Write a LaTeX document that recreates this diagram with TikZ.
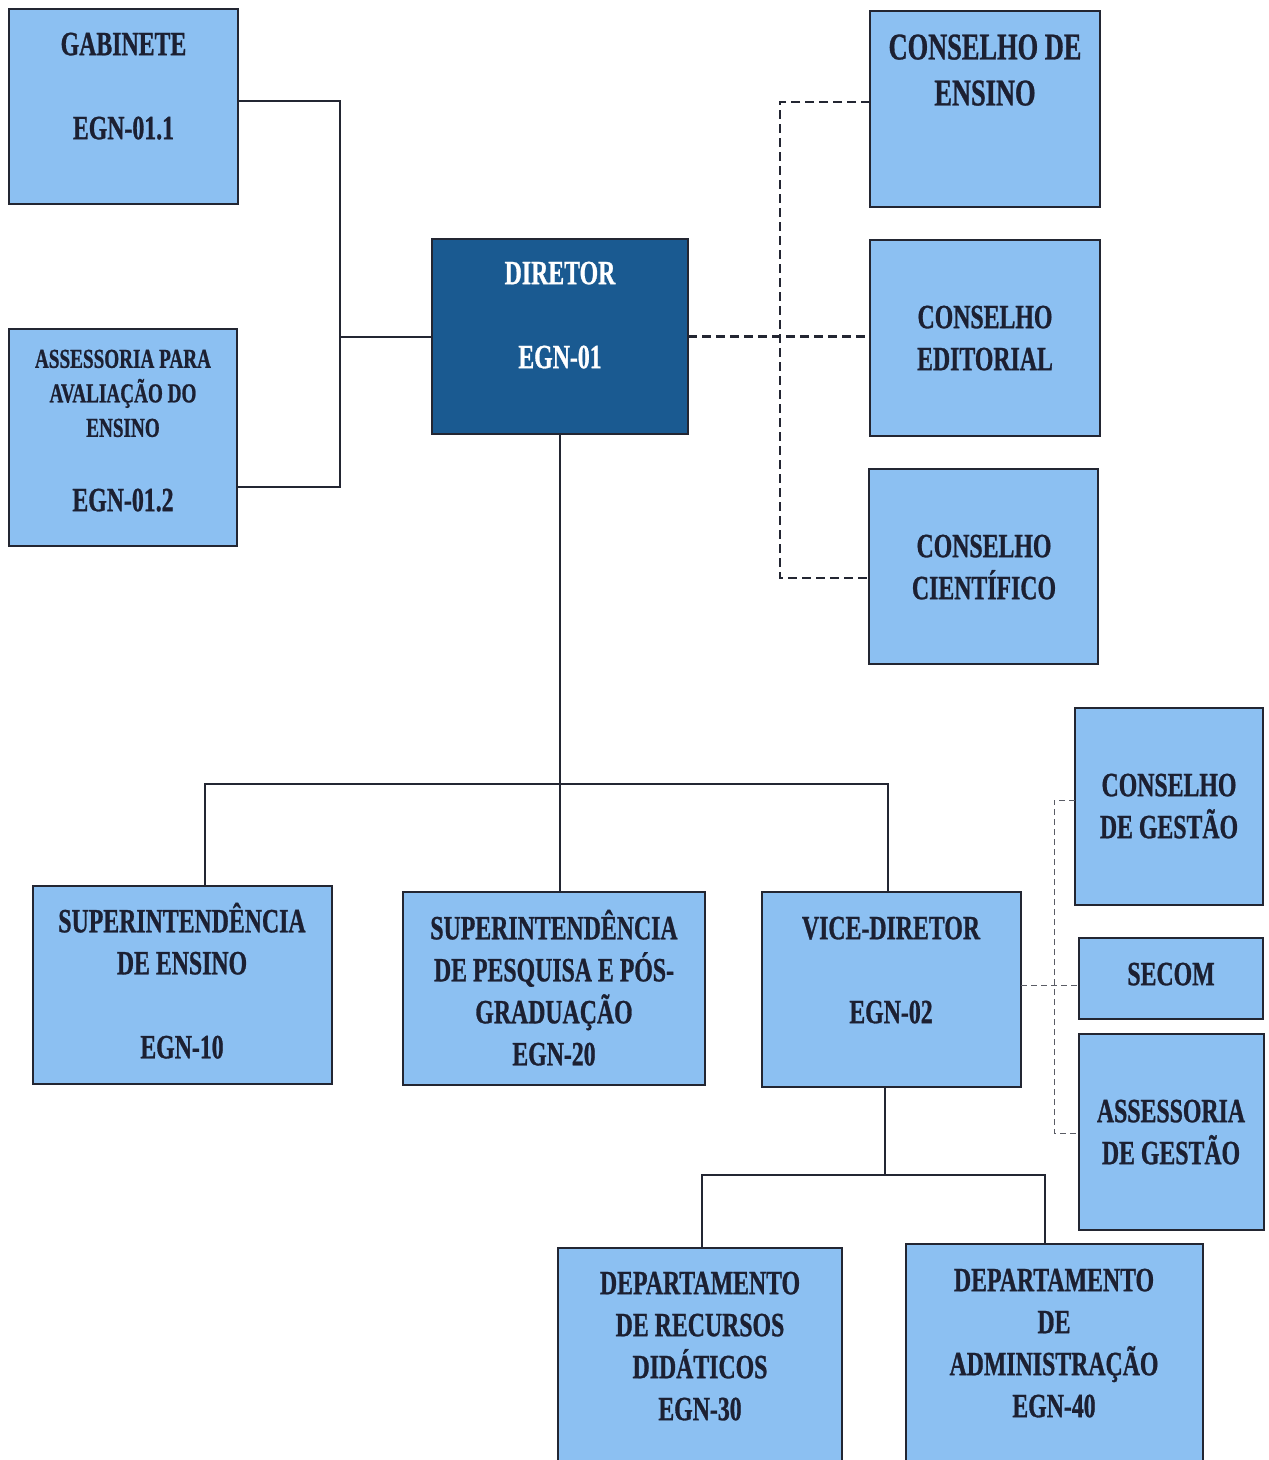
\documentclass[tikz,border=0pt]{standalone}
\usepackage{fontspec}
\setmainfont{Liberation Serif}[FakeStretch=0.7, FakeBold=0.8]
\definecolor{boxfill}{RGB}{140,192,242}
\definecolor{dirfill}{RGB}{26,90,145}
\definecolor{txt}{RGB}{28,32,50}
\definecolor{edge}{RGB}{35,38,50}
\begin{document}
\begin{tikzpicture}[x=1pt,y=-1pt,
  box/.style={draw=edge, line width=2pt, fill=boxfill, inner sep=0pt, outer sep=0pt, anchor=north west},
  lbl/.style={anchor=north, inner sep=0pt, align=center, text=txt, font=\bfseries\fontsize{34}{42}\selectfont},
  conn/.style={draw=edge, line width=2pt},
  dashA/.style={draw=edge, line width=2.2pt, dash pattern=on 9pt off 5pt},
  dashB/.style={draw=edge!75, line width=1pt, dash pattern=on 6pt off 4pt}]
\fill[white] (0,0) rectangle (1269,1460);
\useasboundingbox (0,0) rectangle (1269,1460);

% boxes
\node[box, minimum width=229pt, minimum height=195pt] (gab) at (9,9) {};
\node[box, minimum width=228pt, minimum height=217pt] (ass) at (9,329) {};
\node[box, fill=dirfill, minimum width=256pt, minimum height=195pt] (dir) at (432,239) {};
\node[box, minimum width=230pt, minimum height=196pt] (ce) at (870,11) {};
\node[box, minimum width=230pt, minimum height=196pt] (ced) at (870,240) {};
\node[box, minimum width=229pt, minimum height=195pt] (cc) at (869,469) {};
\node[box, minimum width=188pt, minimum height=197pt] (cg) at (1075,708) {};
\node[box, minimum width=184pt, minimum height=81pt] (sec) at (1079,938) {};
\node[box, minimum width=185pt, minimum height=196pt] (ag) at (1079,1034) {};
\node[box, minimum width=299pt, minimum height=198pt] (se) at (33,886) {};
\node[box, minimum width=302pt, minimum height=193pt] (sp) at (403,892) {};
\node[box, minimum width=259pt, minimum height=195pt] (vd) at (762,892) {};
\node[box, minimum width=284pt, minimum height=230pt] (drd) at (558,1248) {};
\node[box, minimum width=297pt, minimum height=234pt] (dad) at (906,1244) {};

% junctions
\coordinate (jl) at (340,336.5);
\coordinate (jr) at (780,336.5);
\coordinate (bus) at (560,784);
\coordinate (jv) at (1054,985);
\coordinate (bus2) at (885,1175);

% solid connectors
\draw[conn] ([yshift=5.5pt]gab.east) -| (jl) |- ([yshift=-49.5pt]ass.east);
\draw[conn] (jl) -- (dir.west);
\draw[conn] (dir.south) -- (dir.south |- sp.north);
\draw[conn] ([xshift=22.5pt]se.north) |- (bus) -| ([xshift=-3.5pt]vd.north);
\draw[conn] ([xshift=-6.5pt]vd.south) -- (bus2);
\draw[conn] ([xshift=2pt]drd.north) |- (bus2) -| ([xshift=-9.5pt]dad.north);

% dashed connectors
\draw[dashA] (dir.east) -- (dir.east -| ced.west);
\draw[dashA] ([yshift=7pt]ce.west) -| (jr) |- ([yshift=-11.5pt]cc.west);
\draw[dashB] ([yshift=4.5pt]vd.east) -- (jv) -- (jv -| sec.west);
\draw[dashB] ([yshift=6.5pt]cg.west) -| (jv) |- ([yshift=-1pt]ag.west);

% labels
\node[lbl] (tgab) at (123.5,25.6) {\strut GABINETE\\[42pt]EGN-01.1};
\node[lbl, font=\bfseries\fontsize{27.4}{34.5}\selectfont] (tass1) at (123,343.5) {\strut ASSESSORIA PARA\\AVALIAÇÃO DO\\ENSINO};
\node[lbl] (tass2) at (123,481.6) {\strut EGN-01.2};
\node[lbl, text=white] (tdir) at (560,254.6) {\strut DIRETOR\\[42pt]EGN-01};
\node[lbl, font=\bfseries\fontsize{37.7}{46}\selectfont] (tce) at (985,27) {\strut CONSELHO DE\\ENSINO};
\node[lbl] (tced) at (985,298.6) {\strut CONSELHO\\EDITORIAL};
\node[lbl] (tcc) at (984,527.6) {\strut CONSELHO\\CIENTÍFICO};
\node[lbl] (tse) at (182,902.6) {\strut SUPERINTENDÊNCIA\\DE ENSINO\\[42pt]EGN-10};
\node[lbl] (tsp) at (554,909.6) {\strut SUPERINTENDÊNCIA\\DE PESQUISA E PÓS-\\GRADUAÇÃO\\EGN-20};
\node[lbl] (tvd) at (891,909.6) {\strut VICE-DIRETOR\\[42pt]EGN-02};
\node[lbl] (tcg) at (1169,766.6) {\strut CONSELHO\\DE GESTÃO};
\node[lbl] (tsec) at (1171,955.6) {\strut SECOM};
\node[lbl] (tag) at (1171,1092.6) {\strut ASSESSORIA\\DE GESTÃO};
\node[lbl] (tdrd) at (700,1264.6) {\strut DEPARTAMENTO\\DE RECURSOS\\DIDÁTICOS\\EGN-30};
\node[lbl] (tdad) at (1054,1261.6) {\strut DEPARTAMENTO\\DE\\ADMINISTRAÇÃO\\EGN-40};
\end{tikzpicture}
\end{document}
